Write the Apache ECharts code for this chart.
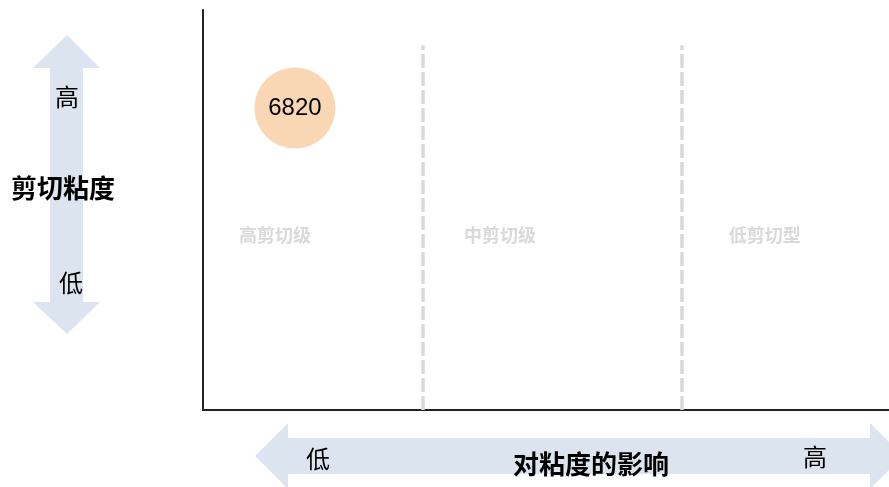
<!DOCTYPE html>
<html>
<head>
<meta charset="utf-8">
<script src="https://cdn.jsdelivr.net/npm/echarts@6/dist/echarts.min.js"></script>
<style>
  html, body { margin: 0; padding: 0; background: #fff; }
  #chart { width: 889px; height: 487px; }
</style>
</head>
<body>
<div id="chart"></div>
<script>
// ---- data ----
const bubblePoints = [[13.4, 75.5, 6820]];          // [x, y, label value]
const zoneNames = ['高剪切级', '中剪切级', '低剪切型'];
const zoneLabelX = [10.5, 43.3, 81.9];
const zoneLabelY = [43.6, 43.6, 43.6];
const zoneDividers = [32.1, 69.8];
const dividerTop = 91.2;
const yAxisTitle = '剪切粘度';
const xAxisTitle = '对粘度的影响';
const lowText = '低';
const highText = '高';

const CJK = '"Noto Sans CJK SC", "Noto Sans", sans-serif';
const chart = echarts.init(document.getElementById('chart'));
const arrowColor = '#DCE4EF';

function txt(x, y, s, size, bold) {
  return { type: 'text', x: x, y: y, z: 5,
    style: { text: s, fontSize: size, fontWeight: bold ? 'bold' : 'normal', fontFamily: CJK,
             fill: '#000', align: 'center', verticalAlign: 'middle' } };
}

const option = {
  animation: false,
  grid: { left: 203, right: 0, top: 10, bottom: 77, containLabel: false },
  xAxis: {
    type: 'value', min: 0, max: 100,
    axisLine: { show: true, lineStyle: { color: '#222', width: 2 } },
    axisTick: { show: false }, axisLabel: { show: false }, splitLine: { show: false }
  },
  yAxis: {
    type: 'value', min: 0, max: 100,
    axisLine: { show: true, lineStyle: { color: '#222', width: 2 } },
    axisTick: { show: false }, axisLabel: { show: false }, splitLine: { show: false }
  },
  graphic: [
    { type: 'polygon', z: -10, silent: true,
      shape: { points: [[67,35],[100,68],[83,68],[83,302],[100,302],[67,334],[33,302],[50,302],[50,68],[33,68]] },
      style: { fill: arrowColor } },
    { type: 'polygon', z: -10, silent: true,
      shape: { points: [[255,456],[288,423],[288,438],[870,438],[870,423],[903,456],[870,489],[870,474],[288,474],[288,489]] },
      style: { fill: arrowColor } },
    txt(67, 97, highText, 24, false),
    txt(71, 283, lowText, 24, false),
    txt(63, 188, yAxisTitle, 26, true),
    txt(318, 459, lowText, 24, false),
    txt(591, 464, xAxisTitle, 26, true),
    txt(815, 457, highText, 24, false)
  ],
  series: [
    {
      type: 'scatter',
      data: bubblePoints,
      symbolSize: 81,
      itemStyle: { color: '#F9D6B4', opacity: 1 },
      label: {
        show: true, position: 'inside',
        formatter: p => p.value[2],
        color: '#000', fontSize: 24, fontFamily: '"Liberation Sans", Arial, sans-serif'
      },
      markLine: {
        silent: true, symbol: 'none',
        label: { show: false },
        lineStyle: { color: '#D9D9D9', width: 3.5, type: [14, 4] },
        data: zoneDividers.map(x => [{ coord: [x, 0] }, { coord: [x, dividerTop] }])
      },
      z: 3
    },
    {
      type: 'scatter',
      data: zoneNames.map((n, i) => [zoneLabelX[i], zoneLabelY[i], n]),
      symbol: 'circle',
      symbolSize: 2,
      itemStyle: { color: 'rgba(255,255,255,0)' },
      label: {
        show: true, position: 'inside',
        formatter: p => p.value[2],
        color: '#CFCFCF', fontSize: 18, fontWeight: 'bold', fontFamily: CJK
      },
      z: 2
    }
  ]
};
chart.setOption(option);
</script>
</body>
</html>
